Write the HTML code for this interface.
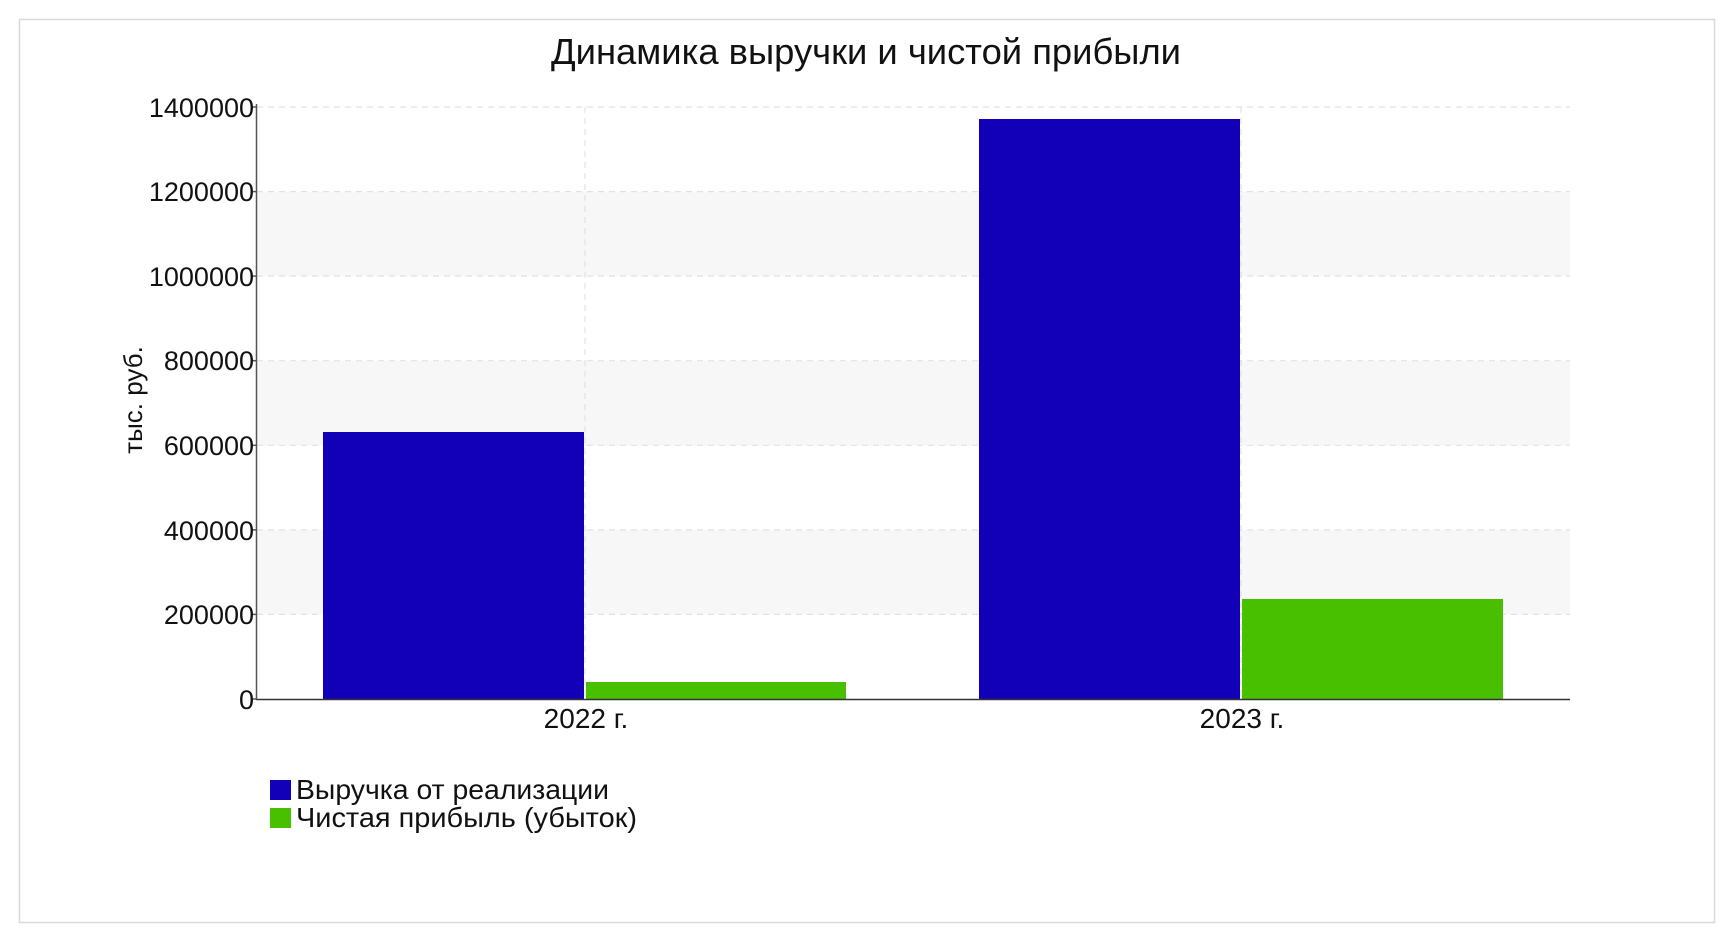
<!DOCTYPE html>
<html><head><meta charset="utf-8"><style>
html,body{margin:0;padding:0;background:#fff;}
svg{display:block;font-family:"Liberation Sans","DejaVu Sans",sans-serif;}
</style></head><body>
<svg width="1732" height="941" viewBox="0 0 1732 941" xmlns="http://www.w3.org/2000/svg">
<rect x="0" y="0" width="1732" height="941" fill="#fff"/>
<rect x="19.5" y="19.5" width="1695" height="903" fill="#fff" stroke="#d8d8d8" stroke-width="1.5"/>
<text x="866" y="64" font-size="36" text-anchor="middle" fill="#111" textLength="630" lengthAdjust="spacingAndGlyphs">Динамика выручки и чистой прибыли</text>
<rect x="257" y="191.6" width="1313" height="84.6" fill="#f7f7f7"/>
<rect x="257" y="360.7" width="1313" height="84.6" fill="#f7f7f7"/>
<rect x="257" y="529.9" width="1313" height="84.6" fill="#f7f7f7"/>
<g stroke="#e2e2e2" stroke-width="1.2" stroke-dasharray="6,5">
<line x1="257" y1="107" x2="1570" y2="107"/>
<line x1="257" y1="191.6" x2="1570" y2="191.6"/>
<line x1="257" y1="276.1" x2="1570" y2="276.1"/>
<line x1="257" y1="360.7" x2="1570" y2="360.7"/>
<line x1="257" y1="445.3" x2="1570" y2="445.3"/>
<line x1="257" y1="529.9" x2="1570" y2="529.9"/>
<line x1="257" y1="614.4" x2="1570" y2="614.4"/>
<line x1="585" y1="107" x2="585" y2="699"/>
<line x1="1241" y1="107" x2="1241" y2="699"/>
</g>
<rect x="323" y="432" width="261" height="267" fill="#1100b8"/>
<rect x="586" y="682" width="260" height="17" fill="#48c000"/>
<rect x="979" y="119" width="261" height="580" fill="#1100b8"/>
<rect x="1242" y="599" width="261" height="100" fill="#48c000"/>
<line x1="256.5" y1="104" x2="256.5" y2="700" stroke="#555" stroke-width="1.5"/>
<line x1="256" y1="699.5" x2="1570" y2="699.5" stroke="#333" stroke-width="1.5"/>
<g stroke="#555" stroke-width="1.5">
<line x1="251" y1="107" x2="257" y2="107"/><line x1="251" y1="191.6" x2="257" y2="191.6"/>
<line x1="251" y1="276.1" x2="257" y2="276.1"/><line x1="251" y1="360.7" x2="257" y2="360.7"/>
<line x1="251" y1="445.3" x2="257" y2="445.3"/><line x1="251" y1="529.9" x2="257" y2="529.9"/>
<line x1="251" y1="614.4" x2="257" y2="614.4"/><line x1="251" y1="699" x2="257" y2="699"/>
</g>
<g font-size="27" fill="#111" text-anchor="end">
<text x="254" y="117">1400000</text>
<text x="254" y="201">1200000</text>
<text x="254" y="286">1000000</text>
<text x="254" y="370">800000</text>
<text x="254" y="455">600000</text>
<text x="254" y="540">400000</text>
<text x="254" y="624">200000</text>
<text x="254" y="709">0</text>
</g>
<text transform="translate(142,400) rotate(-90)" font-size="26" text-anchor="middle" fill="#111">тыс. руб.</text>
<text x="586" y="728" font-size="28" text-anchor="middle" fill="#111">2022 г.</text>
<text x="1242" y="728" font-size="28" text-anchor="middle" fill="#111">2023 г.</text>
<rect x="270" y="780" width="21" height="20" fill="#1100b8"/>
<rect x="270" y="808" width="21" height="20" fill="#48c000"/>
<text x="296" y="799" font-size="28" fill="#111" textLength="313" lengthAdjust="spacingAndGlyphs">Выручка от реализации</text>
<text x="296" y="827" font-size="28" fill="#111" textLength="341" lengthAdjust="spacingAndGlyphs">Чистая прибыль (убыток)</text>
</svg>
</body></html>
